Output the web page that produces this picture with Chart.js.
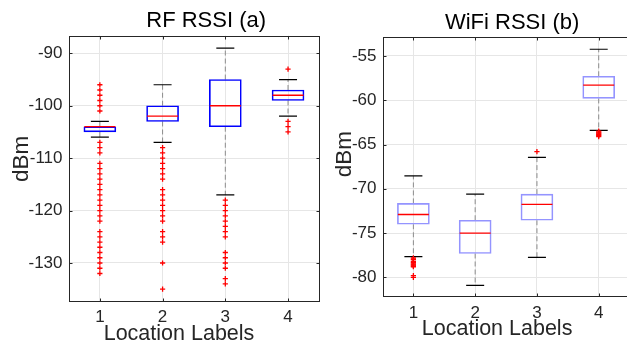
<!DOCTYPE html>
<html>
<head>
<meta charset="utf-8">
<title>RSSI box plots</title>
<script src="https://cdn.jsdelivr.net/npm/chart.js@4"></script>
<style>
  html, body { margin: 0; padding: 0; background: #fff; overflow: hidden; }
  .wrap { position: relative; width: 627px; height: 348px; overflow: hidden; }
  canvas { position: absolute; top: 0; }
  #rf { left: 0; }
  #wifi { left: 313px; }
</style>
</head>
<body>
<div class="wrap">
  <canvas id="rf" width="330" height="348"></canvas>
  <canvas id="wifi" width="330" height="348"></canvas>
</div>
<script>
const locations = [1, 2, 3, 4];

// RF RSSI (a) - box statistics (dBm)
const rfQ1 = [-105, -103, -104, -99];
const rfMedian = [-104, -102, -100, -98];
const rfQ3 = [-104, -100, -95, -97];
const rfWhiskerLow = [-106, -107, -117, -102];
const rfWhiskerHigh = [-103, -96, -89, -95];
const rfOutliers1 = [-96, -97, -98, -99, -100, -101, -107, -108, -109, -111, -112, -113, -114, -115,
  -116, -117, -118, -119, -120, -121, -122, -124, -125, -126, -127, -128, -129, -130, -131, -132];
const rfOutliers2 = [-108, -109, -110, -111, -112, -113, -114, -116, -117, -118, -119, -120, -121,
  -122, -124, -125, -126, -130, -135];
const rfOutliers3 = [-118, -119, -120, -121, -122, -123, -124, -125, -128, -129, -130, -131, -133, -134];
const rfOutliers4 = [-93, -103, -104, -105];
const rfTicks = [-130, -120, -110, -100, -90];

// WiFi RSSI (b)
const wifiQ1 = [-74.0, -77.3, -73.55, -59.8];
const wifiMedian = [-72.9, -75.0, -71.75, -58.3];
const wifiQ3 = [-71.65, -73.55, -70.6, -57.3];
const wifiWhiskerLow = [-77.65, -80.9, -77.75, -63.4];
const wifiWhiskerHigh = [-68.55, -70.6, -66.45, -54.25];
const wifiOutliers1 = [-77.8, -77.9, -78.0, -78.2, -78.3, -78.4, -78.5, -78.6, -78.7, -78.8, -79.8, -80.0];
const wifiOutliers2 = [];
const wifiOutliers3 = [-65.8];
const wifiOutliers4 = [-63.5, -63.6, -63.7, -63.8, -63.9, -64.0, -64.1];
const wifiTicks = [-80, -75, -70, -65, -60, -55];

Chart.defaults.font.family = "'Liberation Sans', Arial, Helvetica, sans-serif";
Chart.defaults.color = '#262626';

// frame round the axes plus MATLAB-style inward tick marks
const framePlugin = {
  id: 'frame',
  afterDraw(chart) {
    const { ctx, chartArea: a, scales } = chart;
    const l = Math.round(a.left) + 0.5, r = Math.round(a.right) + 0.5;
    const t = Math.round(a.top) + 0.5, b = Math.round(a.bottom) + 0.5;
    ctx.save();
    ctx.strokeStyle = '#262626';
    ctx.lineWidth = 1;
    ctx.strokeRect(l, t, r - l, b - t);
    ctx.beginPath();
    scales.x.ticks.forEach(tk => {
      const px = Math.round(scales.x.getPixelForValue(tk.value)) + 0.5;
      ctx.moveTo(px, b); ctx.lineTo(px, b - 3);
      ctx.moveTo(px, t); ctx.lineTo(px, t + 3);
    });
    scales.y.ticks.forEach(tk => {
      const py = Math.round(scales.y.getPixelForValue(tk.value)) + 0.5;
      ctx.moveTo(l, py); ctx.lineTo(l + 3, py);
      ctx.moveTo(r, py); ctx.lineTo(r - 3, py);
    });
    ctx.stroke();
    ctx.restore();
  }
};

function boxDatasets(q1, med, q3, lo, hi, outliers, boxColor) {
  const whiskers = [];
  const caps = [];
  const outs = [];
  locations.forEach((x, i) => {
    whiskers.push({ x, y: q3[i] }, { x, y: hi[i] }, { x, y: null });
    whiskers.push({ x, y: q1[i] }, { x, y: lo[i] }, { x, y: null });
    caps.push({ x, y: hi[i] }, { x, y: lo[i] });
    outliers[i].forEach(y => outs.push({ x, y }));
  });
  return [
    { type: 'scatter', data: outs, pointStyle: 'cross', pointRadius: 2.6,
      borderColor: '#ff0000', backgroundColor: '#ff0000', borderWidth: 1.3 },
    { type: 'scatter', data: locations.map((x, i) => ({ x, y: med[i] })), pointStyle: 'line',
      pointRadius: 15.5, borderColor: '#ff0000', borderWidth: 1.3 },
    { type: 'scatter', data: caps, pointStyle: 'line', pointRadius: 9,
      borderColor: '#000000', borderWidth: 1.2 },
    { type: 'bar', data: locations.map((x, i) => ({ x, y: [q1[i], q3[i]] })), barThickness: 32,
      backgroundColor: 'rgba(0,0,0,0)', borderColor: boxColor, borderWidth: 1, borderSkipped: false },
    { type: 'scatter', data: whiskers, showLine: true, spanGaps: false, pointRadius: 0,
      borderColor: '#8c8c8c', borderWidth: 1, borderDash: [5, 3] }
  ];
}

function makeChart(id, o) {
  new Chart(document.getElementById(id), {
    type: 'scatter',
    data: { datasets: boxDatasets(o.q1, o.med, o.q3, o.lo, o.hi, o.outliers, o.boxColor) },
    options: {
      responsive: false,
      animation: false,
      events: [],
      layout: { autoPadding: false, padding: { left: 0, right: o.padRight, top: 0, bottom: 0 } },
      plugins: {
        legend: { display: false },
        tooltip: { enabled: false },
        title: {
          display: true, text: o.title, fullSize: false, color: '#000',
          font: { size: 22, weight: 'normal', lineHeight: 1.2 },
          padding: o.titlePad
        }
      },
      scales: {
        x: {
          type: 'linear', min: 0.5, max: 4.5, offset: false,
          afterBuildTicks: s => { s.ticks = locations.map(v => ({ value: v })); },
          afterFit: s => { s.height = o.xHeight; },
          grid: { color: '#e6e6e6', drawTicks: false, offset: false },
          border: { display: false },
          ticks: { padding: o.xTickPad, font: { size: 17 }, callback: v => String(v) },
          title: { display: true, text: 'Location Labels' + o.xTitlePad, font: { size: 21.5 },
                   padding: { top: 0, bottom: o.xTitleBottom } }
        },
        y: {
          min: o.yMin, max: o.yMax,
          afterBuildTicks: s => { s.ticks = o.ticks.map(v => ({ value: v })); },
          afterFit: s => { s.width = o.yWidth; },
          grid: { color: '#e6e6e6', drawTicks: false },
          border: { display: false },
          ticks: { padding: 6, font: { size: 17 }, callback: v => String(v) },
          title: { display: true, text: o.yTitle, font: { size: 22.5 },
                   padding: { top: o.yTitleTop, bottom: 0 } }
        }
      }
    },
    plugins: [framePlugin]
  });
}

makeChart('rf', {
  q1: rfQ1, med: rfMedian, q3: rfQ3, lo: rfWhiskerLow, hi: rfWhiskerHigh,
  outliers: [rfOutliers1, rfOutliers2, rfOutliers3, rfOutliers4],
  boxColor: '#0000ff', ticks: rfTicks, yMin: -137.25, yMax: -86.6,
  title: '    RF RSSI (a)', titlePad: { top: 8, bottom: 1.1 },
  padRight: 10.6, yWidth: 68.5, xHeight: 47, xTickPad: 6.3,
  xTitlePad: '     ', xTitleBottom: 1, yTitle: '   dBm', yTitleTop: 8
});

makeChart('wifi', {
  q1: wifiQ1, med: wifiMedian, q3: wifiQ3, lo: wifiWhiskerLow, hi: wifiWhiskerHigh,
  outliers: [wifiOutliers1, wifiOutliers2, wifiOutliers3, wifiOutliers4],
  boxColor: '#9494ff', ticks: wifiTicks, yMin: -82.1, yMax: -52.9,
  title: '  WiFi RSSI (b)', titlePad: { top: 10, bottom: 0.9 },
  padRight: 13.4, yWidth: 69.5, xHeight: 52, xTickPad: 7.1,
  xTitlePad: '   ', xTitleBottom: 6, yTitle: '    dBm', yTitleTop: 17.8
});
</script>
</body>
</html>
